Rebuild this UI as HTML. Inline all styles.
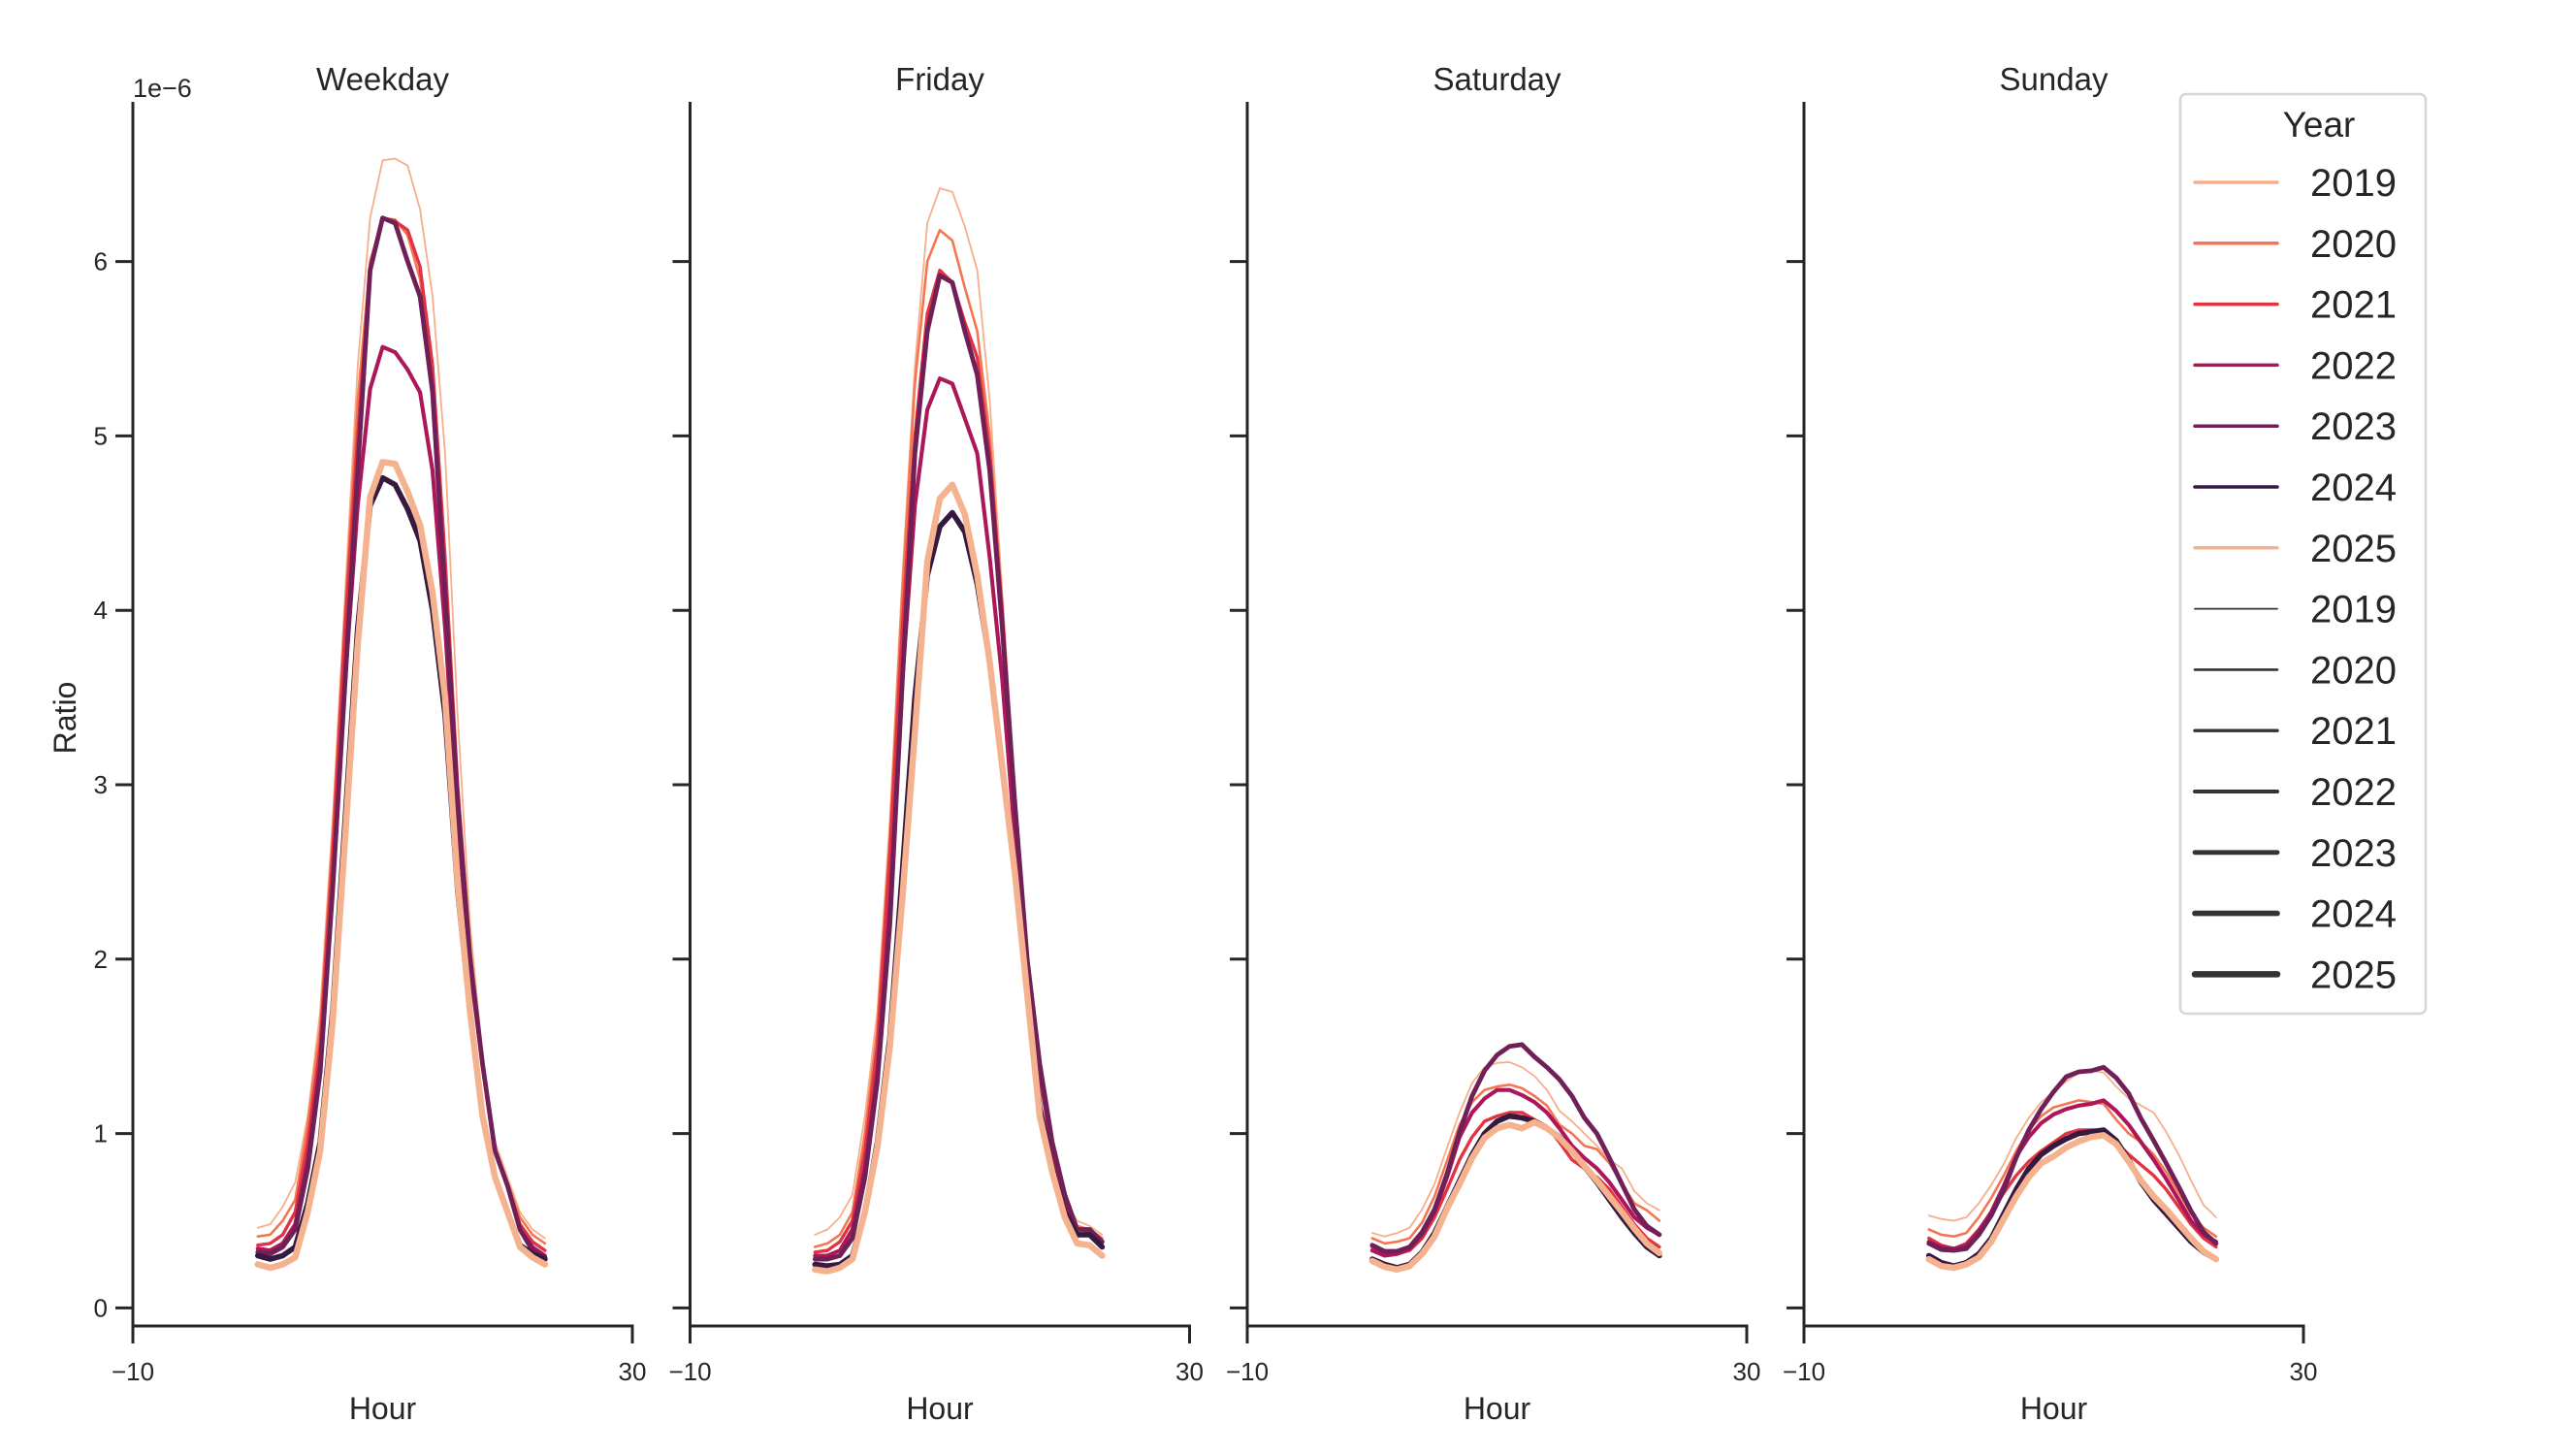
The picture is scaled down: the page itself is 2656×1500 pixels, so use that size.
<!DOCTYPE html>
<html><head><meta charset="utf-8">
<style>
html,body{margin:0;padding:0;background:#fff;}
svg{display:block;font-family:"Liberation Sans","DejaVu Sans",sans-serif;}
</style></head>
<body>
<svg id="chart" width="2656" height="1500" viewBox="0 0 2656 1500" xmlns="http://www.w3.org/2000/svg">
<g id="panels"></g>
<g id="legend"></g>
</svg>
<script>
const panelTitles = ["Weekday","Friday","Saturday","Sunday"];
const years = ["2019","2020","2021","2022","2023","2024","2025"];
const hours = [0,1,2,3,4,5,6,7,8,9,10,11,12,13,14,15,16,17,18,19,20,21,22,23];
const xTicks = [-10,30];
const yTicks = [0,1,2,3,4,5,6];
const yTickLabels = ["0","1","2","3","4","5","6"];

const weekday2019 = [0.46,0.48,0.58,0.72,1.1,1.7,2.8,4.1,5.4,6.25,6.58,6.59,6.55,6.3,5.8,4.9,3.4,2.2,1.45,0.95,0.75,0.55,0.45,0.4];
const weekday2020 = [0.41,0.42,0.5,0.62,1.05,1.6,2.7,4.0,5.2,6.0,6.25,6.24,6.15,5.9,5.35,4.3,3.0,2.05,1.4,0.92,0.72,0.52,0.42,0.37];
const weekday2021 = [0.36,0.37,0.42,0.55,0.95,1.5,2.6,3.9,5.0,5.95,6.25,6.23,6.18,5.97,5.4,4.3,3.0,2.05,1.4,0.9,0.7,0.48,0.38,0.33];
const weekday2022 = [0.34,0.33,0.37,0.48,0.85,1.4,2.4,3.6,4.6,5.27,5.51,5.48,5.38,5.25,4.8,3.9,2.8,1.95,1.4,0.9,0.7,0.45,0.35,0.3];
const weekday2023 = [0.32,0.31,0.35,0.45,0.8,1.35,2.4,3.6,4.8,5.95,6.25,6.22,6.0,5.8,5.25,4.1,2.9,2.0,1.4,0.9,0.7,0.45,0.33,0.29];
const weekday2024 = [0.3,0.28,0.3,0.35,0.6,0.95,1.7,2.8,3.9,4.6,4.76,4.72,4.58,4.4,4.0,3.4,2.4,1.7,1.1,0.75,0.55,0.36,0.31,0.28];
const weekday2025 = [0.25,0.23,0.25,0.29,0.55,0.9,1.64,2.7,3.8,4.65,4.85,4.84,4.68,4.49,4.1,3.5,2.44,1.7,1.1,0.75,0.55,0.35,0.29,0.25];

const friday2019 = [0.42,0.45,0.52,0.65,1.1,1.7,2.8,4.2,5.4,6.22,6.42,6.4,6.2,5.95,5.2,4.1,3.0,2.0,1.4,0.9,0.62,0.5,0.47,0.42];
const friday2020 = [0.35,0.37,0.42,0.55,1.0,1.6,2.7,4.1,5.3,6.0,6.18,6.12,5.85,5.6,5.0,4.0,2.9,2.0,1.4,0.9,0.62,0.47,0.45,0.4];
const friday2021 = [0.32,0.33,0.38,0.5,0.9,1.5,2.6,3.9,5.0,5.7,5.95,5.88,5.65,5.45,4.9,4.0,2.9,2.0,1.4,0.9,0.62,0.45,0.44,0.37];
const friday2022 = [0.3,0.3,0.33,0.45,0.8,1.35,2.3,3.6,4.6,5.15,5.33,5.3,5.1,4.9,4.3,3.6,2.7,1.9,1.35,0.9,0.6,0.42,0.42,0.35];
const friday2023 = [0.28,0.28,0.3,0.4,0.75,1.3,2.2,3.6,4.9,5.6,5.92,5.88,5.6,5.35,4.8,3.9,2.9,2.0,1.4,0.95,0.65,0.45,0.45,0.38];
const friday2024 = [0.25,0.24,0.25,0.3,0.55,0.95,1.55,2.5,3.5,4.2,4.48,4.56,4.45,4.15,3.7,3.1,2.5,1.8,1.15,0.8,0.55,0.42,0.42,0.35];
const friday2025 = [0.22,0.21,0.23,0.28,0.55,0.92,1.5,2.35,3.3,4.28,4.64,4.72,4.55,4.2,3.7,3.1,2.5,1.8,1.1,0.78,0.52,0.37,0.36,0.3];

const saturday2019 = [0.43,0.41,0.43,0.46,0.565,0.71,0.92,1.12,1.29,1.38,1.405,1.41,1.38,1.33,1.25,1.13,1.07,1.0,0.93,0.85,0.8,0.67,0.6,0.56];
const saturday2020 = [0.4,0.37,0.38,0.4,0.49,0.64,0.845,1.05,1.18,1.25,1.27,1.28,1.26,1.215,1.16,1.05,1.0,0.93,0.91,0.83,0.71,0.6,0.56,0.5];
const saturday2021 = [0.35,0.32,0.31,0.33,0.4,0.52,0.68,0.85,0.98,1.07,1.1,1.12,1.12,1.08,1.04,0.95,0.85,0.8,0.75,0.68,0.58,0.48,0.4,0.35];
const saturday2022 = [0.33,0.3,0.31,0.34,0.42,0.55,0.75,0.98,1.12,1.2,1.25,1.25,1.22,1.18,1.12,1.03,0.93,0.86,0.8,0.72,0.62,0.52,0.46,0.42];
const saturday2023 = [0.36,0.325,0.325,0.35,0.435,0.565,0.77,1.01,1.215,1.36,1.45,1.5,1.51,1.44,1.38,1.31,1.215,1.09,1.0,0.86,0.71,0.565,0.47,0.42];
const saturday2024 = [0.28,0.25,0.23,0.25,0.32,0.43,0.58,0.73,0.88,1.0,1.07,1.1,1.09,1.07,1.03,0.98,0.9,0.81,0.72,0.62,0.52,0.43,0.35,0.3];
const saturday2025 = [0.27,0.235,0.22,0.24,0.31,0.41,0.57,0.71,0.86,0.975,1.03,1.05,1.03,1.065,1.03,0.975,0.9,0.815,0.73,0.64,0.55,0.455,0.37,0.315];

const sunday2019 = [0.53,0.51,0.5,0.52,0.6,0.705,0.825,0.975,1.09,1.18,1.24,1.3,1.35,1.36,1.35,1.27,1.2,1.16,1.12,1.01,0.88,0.73,0.59,0.52];
const sunday2020 = [0.45,0.42,0.41,0.43,0.52,0.63,0.76,0.9,1.02,1.1,1.15,1.17,1.19,1.18,1.17,1.08,1.0,0.95,0.88,0.78,0.66,0.54,0.46,0.41];
const sunday2021 = [0.4,0.36,0.34,0.37,0.45,0.55,0.66,0.76,0.84,0.9,0.95,1.0,1.02,1.02,1.02,0.95,0.88,0.82,0.76,0.68,0.58,0.48,0.4,0.35];
const sunday2022 = [0.38,0.35,0.34,0.36,0.44,0.55,0.7,0.87,0.98,1.06,1.11,1.14,1.16,1.17,1.19,1.13,1.05,0.95,0.85,0.74,0.62,0.5,0.42,0.38];
const sunday2023 = [0.37,0.335,0.33,0.34,0.42,0.53,0.677,0.863,1.02,1.14,1.24,1.326,1.354,1.36,1.38,1.32,1.23,1.085,0.96,0.83,0.696,0.556,0.436,0.37];
const sunday2024 = [0.3,0.26,0.24,0.26,0.31,0.4,0.54,0.68,0.8,0.88,0.93,0.97,1.0,1.01,1.02,0.96,0.85,0.72,0.62,0.54,0.46,0.38,0.32,0.28];
const sunday2025 = [0.28,0.24,0.23,0.25,0.29,0.38,0.51,0.64,0.75,0.83,0.87,0.92,0.955,0.98,0.99,0.94,0.84,0.73,0.64,0.566,0.483,0.4,0.325,0.28];

const panelSeries = [
  [weekday2019,weekday2020,weekday2021,weekday2022,weekday2023,weekday2024,weekday2025],
  [friday2019,friday2020,friday2021,friday2022,friday2023,friday2024,friday2025],
  [saturday2019,saturday2020,saturday2021,saturday2022,saturday2023,saturday2024,saturday2025],
  [sunday2019,sunday2020,sunday2021,sunday2022,sunday2023,sunday2024,sunday2025]
];

const NS = "http://www.w3.org/2000/svg";
const colors = ["#f7ae8a","#f37651","#e13342","#ad1759","#701f57","#35193e","#f5b28f"];
const widths = [1.8,2.6,3.4,4.1,4.8,5.6,6.5];
const panelX0 = [137,711.5,1286,1860];
const panelW = 515;
const xMin = -10, xMax = 30;
const yZero = 1348.4, yUnit = 179.8;
const axisY = 1367, spineTop = 105;
const ink = "#262626";

function mk(tag, attrs, parent){
  const e = document.createElementNS(NS, tag);
  for (const k in attrs) e.setAttribute(k, attrs[k]);
  parent.appendChild(e);
  return e;
}
function xScale(p, v){ return panelX0[p] + (v - xMin) / (xMax - xMin) * panelW; }
function yScale(v){ return yZero - v * yUnit; }

const panelsG = document.getElementById("panels");
for (let p = 0; p < 4; p++){
  const g = mk("g", {}, panelsG);
  
  
  const x0 = panelX0[p];
  const title = mk("text", {x: x0 + panelW/2, y: 93, "text-anchor":"middle", "font-size":33, fill: ink}, g);
  title.textContent = panelTitles[p];
  
  
  // y spine
  const ys = mk("line", {x1:x0, y1:spineTop, x2:x0, y2:axisY, stroke:ink, "stroke-width":3}, g);
  
  
  const xs = mk("line", {x1:x0-1.5, y1:axisY, x2:x0+panelW+1.5, y2:axisY, stroke:ink, "stroke-width":3}, g);
  
  
  for (let i = 0; i < yTicks.length; i++){
    const yy = yScale(yTicks[i]);
    const t = mk("line", {x1:x0-18, y1:yy, x2:x0, y2:yy, stroke:ink, "stroke-width":3}, g);
    
    
    if (p === 0){
      const lb = mk("text", {x: x0-26, y: yy+9, "text-anchor":"end", "font-size":26, fill: ink}, g);
      lb.textContent = yTickLabels[i];
      
      
    }
  }
  for (let i = 0; i < xTicks.length; i++){
    const xx = xScale(p, xTicks[i]);
    const t = mk("line", {x1:xx, y1:axisY, x2:xx, y2:axisY+18, stroke:ink, "stroke-width":3}, g);
    
    
    const lb = mk("text", {x: xx, y: 1423, "text-anchor":"middle", "font-size":26, fill: ink}, g);
    lb.textContent = xTicks[i] < 0 ? "\u2212" + Math.abs(xTicks[i]) : String(xTicks[i]);
    
    
  }
  const xl = mk("text", {x: x0 + panelW/2, y: 1463, "text-anchor":"middle", "font-size":32, fill: ink}, g);
  xl.textContent = "Hour";
  
  
  const series = panelSeries[p];
  for (let s = 0; s < series.length; s++){
    const pts = series[s].map((v, i) => xScale(p, hours[i]).toFixed(1) + "," + yScale(v).toFixed(1)).join(" ");
    const pl = mk("polyline", {points: pts, fill:"none", stroke: colors[s], "stroke-width": widths[s], "stroke-linejoin":"round", "stroke-linecap":"round"}, g);
    
    
  }
}
// offset text & y title
const off = mk("text", {x: 137, y: 100, "font-size":27, fill: ink}, panelsG);
off.textContent = "1e\u22126";


const yt = mk("text", {x: 0, y: 0, "text-anchor":"middle", "font-size":32, fill: ink, transform:"translate(78,740) rotate(-90)"}, panelsG);
yt.textContent = "Ratio";



// legend
const lg = document.getElementById("legend");
const box = mk("rect", {x:2248, y:97, width:253, height:948, rx:6, fill:"#fff", stroke:"#d6d6d6", "stroke-width":2.5}, lg);


const lt = mk("text", {x: 2391, y: 141, "text-anchor":"middle", "font-size":37, fill: ink}, lg);
lt.textContent = "Year";


for (let i = 0; i < 14; i++){
  const yy = 188 + i * 62.8;
  const isColor = i < 7;
  const k = i % 7;
  const eg = mk("g", {}, lg);
  
  
  mk("line", {x1:2263, y1:yy, x2:2348, y2:yy, stroke: isColor ? colors[k] : "#333", "stroke-width": isColor ? 3.5 : widths[k], "stroke-linecap":"round"}, eg);
  const tx = mk("text", {x: 2382, y: yy + 14, "font-size":40, fill: ink}, eg);
  tx.textContent = years[k];
}
</script>
</body></html>
